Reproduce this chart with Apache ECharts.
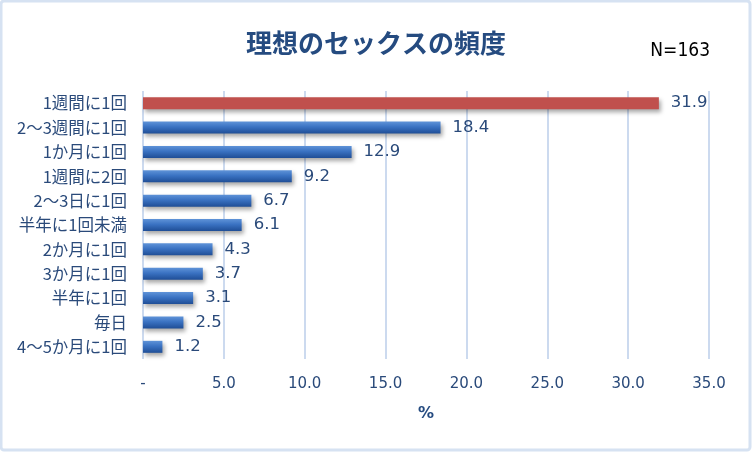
<!DOCTYPE html>
<html><head><meta charset="utf-8">
<script src="https://cdn.jsdelivr.net/npm/echarts@6/dist/echarts.min.js"></script>
<style>html,body{margin:0;padding:0;background:#fff}#c{width:752px;height:452px}</style>
</head><body><div id="c"></div>
<script>
const categories = ["1週間に1回","2～3週間に1回","1か月に1回","1週間に2回","2～3日に1回","半年に1回未満","2か月に1回","3か月に1回","半年に1回","毎日","4～5か月に1回"];
const values = [31.9,18.4,12.9,9.2,6.7,6.1,4.3,3.7,3.1,2.5,1.2];
const highlightIndex = 0;
const titleText = "理想のセックスの頻度";
const noteText = "N=163";
const axisName = "%";

const chart = echarts.init(document.getElementById('c'));
const blueGrad = new echarts.graphic.LinearGradient(0,0,0,1,[
  {offset:0,color:'#5f93d8'},{offset:0.45,color:'#3a72c2'},{offset:1,color:'#1f4e96'}]);
chart.setOption({
  animation:false,
  backgroundColor:'#fff',
  graphic:[{type:'rect',shape:{x:1,y:1,width:749,height:449,r:3},style:{fill:'none',stroke:'#d6e2f2',lineWidth:3}},
           {type:'text',right:42,top:42,style:{text:noteText,font:'19px "Liberation Sans Narrow", "DejaVu Sans Condensed", sans-serif',fill:'#000'}}],
  title:{text:titleText,left:'center',top:25,textStyle:{fontSize:26,fontWeight:'bold',color:'#254b80',fontFamily:'"Noto Sans CJK JP", sans-serif'}},
  grid:{left:143,right:43,top:91,bottom:93,containLabel:false},
  xAxis:{type:'value',min:0,max:35,interval:5,
    axisLine:{show:false},axisTick:{show:false},
    splitLine:{show:true,lineStyle:{color:'#ccdaef',width:2}},
    axisLabel:{margin:18,fontSize:15,color:'#2a4a7a',fontFamily:'"DejaVu Sans", sans-serif',
      formatter:v=>v===0?'-':v.toFixed(1)},
    name:axisName,nameLocation:'middle',nameGap:47,
    nameTextStyle:{fontSize:16,fontWeight:'bold',color:'#254b80',fontFamily:'"DejaVu Sans", sans-serif'}},
  yAxis:{type:'category',data:categories,inverse:true,
    axisLine:{show:false},axisTick:{show:false},
    axisLabel:{margin:16,fontSize:16.5,color:'#2a4a7a',fontFamily:'"Noto Sans CJK JP", sans-serif'}},
  series:[{type:'bar',barWidth:12,
    data:values.map((v,i)=>({value:v,itemStyle:{color:i===highlightIndex?'#c0504d':blueGrad}})),
    itemStyle:{shadowColor:'rgba(0,0,0,0.35)',shadowBlur:4,shadowOffsetX:2,shadowOffsetY:3},
    label:{show:true,position:'right',distance:12,fontSize:16.5,color:'#2a4a7a',
      fontFamily:'"DejaVu Sans", sans-serif',formatter:p=>p.value.toFixed(1)}}]
});
</script></body></html>
